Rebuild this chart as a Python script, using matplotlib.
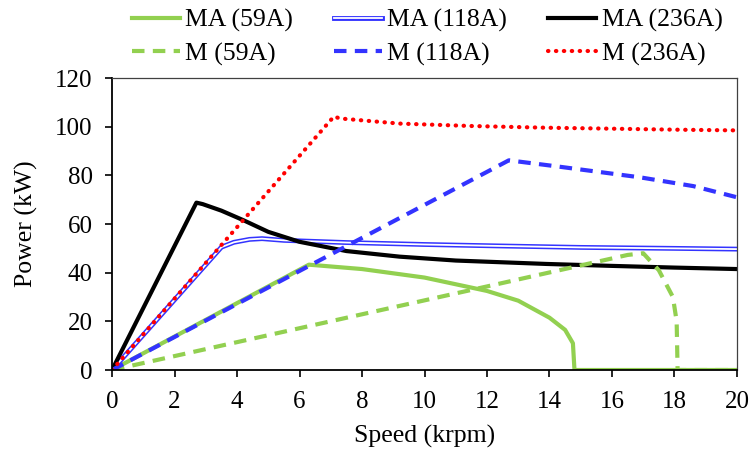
import numpy as np
import matplotlib.pyplot as plt

plt.rcParams['font.family'] = ['Liberation Serif', 'DejaVu Serif']
plt.rcParams['font.size'] = 18

# speed (krpm) / power (kW) points for each curve
ma59_x = [0, 6.3, 8, 10, 12, 13, 14, 14.5, 14.75, 14.8, 20]
ma59_y = [0, 43.3, 41.5, 38.0, 32.5, 28.5, 21.5, 16.5, 11.0, 0, 0]

ma118_x = [0, 3.5, 3.9, 4.4, 4.8, 5.5, 7.5, 10, 12.4, 15, 18, 20]
ma118_y = [0, 50.5, 52.5, 53.7, 54.0, 53.3, 52.4, 51.6, 51.0, 50.4, 50.0, 49.7]

ma236_x = [0, 2.7, 2.9, 3.5, 4.2, 5.0, 6.0, 7.5, 9.2, 11, 13.9, 16, 18, 20]
ma236_y = [0, 68.8, 68.2, 65.5, 61.6, 56.8, 52.7, 48.9, 46.6, 45.0, 43.6, 42.8, 42.1, 41.5]

m59_x = [0, 12.4, 16.5, 17.0, 17.5, 17.95, 18.07, 18.1, 20]
m59_y = [0, 35.5, 47.3, 48.0, 41.0, 30.0, 20.0, 0, 0]

m118_x = [0, 12.7, 14.3, 16.9, 18.6, 20]
m118_y = [0, 86.2, 83.6, 79.2, 75.6, 71.0]

m236_x = [0, 7.1, 7.3, 9.2, 11.5, 13.9, 16, 18, 20]
m236_y = [0, 104.2, 103.4, 101.3, 100.3, 99.6, 99.2, 98.8, 98.5]

green = '#92D050'
blue = '#3333FF'

fig = plt.figure(figsize=(7.52, 4.54), dpi=100)
ax = fig.add_axes([0.149, 0.185, 0.831, 0.643])

l1, = ax.plot(ma59_x, ma59_y, color=green, lw=3)
# double line: blue outline with a white core
l2a, = ax.plot(ma118_x, ma118_y, color=blue, lw=3.5)
l2b, = ax.plot(ma118_x, ma118_y, color='white', lw=1.3)
l3, = ax.plot(ma236_x, ma236_y, color='black', lw=3)
l4, = ax.plot(m59_x, m59_y, color=green, lw=3, ls=(0, (3, 2)))
l5, = ax.plot(m118_x, m118_y, color=blue, lw=3, ls=(0, (3, 2)))
l6, = ax.plot(m236_x, m236_y, color='red', lw=3, ls=(0, (0.1, 1.8)),
              dash_capstyle='round')

ax.set_xlim(0, 20)
ax.set_ylim(0, 120)
ax.set_xticks(np.arange(0, 21, 2))
ax.set_yticks(np.arange(0, 121, 20))
ax.tick_params(direction='out', length=5, width=1.2, top=False, right=False)
ax.tick_params(axis='x', pad=10)
ax.tick_params(axis='y', pad=9)
ax.set_xlabel('Speed (krpm)', labelpad=9, fontsize=18.5)
ax.set_ylabel('Power (kW)', labelpad=12, fontsize=18.5)

for s in ['left', 'bottom']:
    ax.spines[s].set_linewidth(1.3)
    ax.spines[s].set_color('black')
for s in ['top', 'right']:
    ax.spines[s].set_linewidth(0.9)
    ax.spines[s].set_color('#404040')

handles = [l1, l4, (l2a, l2b), l5, l3, l6]
labels = ['MA (59A)', 'M (59A)', 'MA (118A)', 'M (118A)', 'MA (236A)', 'M (236A)']
fig.legend(handles, labels, loc='upper left', bbox_to_anchor=(132 / 752, 1 - 9 / 454),
           ncol=3, frameon=False, fontsize=18.5, borderpad=0, borderaxespad=0,
           handlelength=1.87, handletextpad=0.2, columnspacing=1.6,
           labelspacing=0.38)

fig.savefig('out.png', dpi=100)
